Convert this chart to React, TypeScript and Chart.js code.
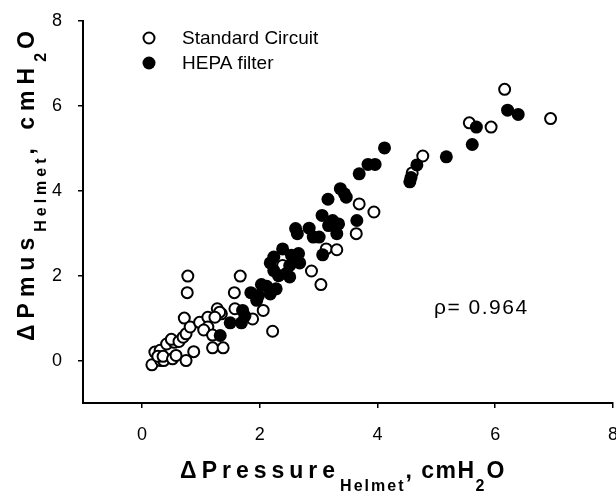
import React, { useEffect, useRef } from 'react';
import { Chart, registerables } from 'chart.js';

Chart.register(...registerables);

// ---- data ----
const seriesLabels = ['Standard Circuit', 'HEPA filter'];

const standardX = [0.17, 0.32, 0.37, 0.22, 0.31, 0.27, 0.42, 0.36, 0.52, 0.55, 0.5, 0.63, 0.58, 0.7, 0.75, 0.72, 0.82, 0.88, 0.75, 0.77, 0.78, 0.98, 1.12, 1.12, 1.05, 1.28, 1.2, 1.38, 1.35, 1.2, 1.32, 1.24, 1.57, 1.67, 1.58, 1.88, 2.06, 2.22, 2.39, 2.88, 3.04, 3.13, 3.31, 3.64, 3.69, 3.94, 4.59, 4.77, 5.56, 5.93, 6.16, 6.94];
const standardY = [-0.1, 0.0, 0.0, 0.2, 0.24, 0.1, 0.39, 0.1, 0.04, 0.43, 0.5, 0.45, 0.12, 0.55, 0.63, 1.0, 0.79, 0.21, 0.0, 1.6, 1.99, 0.9, 1.02, 0.79, 0.72, 1.22, 0.3, 0.3, 1.1, 0.6, 1.14, 1.02, 1.6, 1.99, 1.22, 0.98, 1.18, 0.69, 2.24, 2.11, 1.79, 2.63, 2.61, 2.99, 3.69, 3.5, 4.42, 4.82, 5.6, 5.5, 6.39, 5.7];

const hepaX = [1.33, 1.5, 1.69, 1.71, 1.75, 1.85, 1.95, 1.98, 2.03, 2.18, 2.28, 2.12, 2.18, 2.24, 2.39, 2.32, 2.24, 2.51, 2.45, 2.51, 2.54, 2.66, 2.68, 2.61, 2.64, 2.84, 2.91, 3.01, 3.07, 3.16, 3.06, 3.17, 3.24, 3.34, 3.31, 3.37, 3.47, 3.44, 3.65, 3.69, 3.84, 3.96, 4.12, 4.55, 4.57, 4.67, 5.17, 5.61, 5.68, 6.21, 6.39];
const hepaY = [0.59, 0.89, 0.89, 1.18, 1.05, 1.6, 1.42, 1.53, 1.79, 1.57, 1.69, 1.75, 2.3, 2.44, 2.63, 2.0, 2.12, 1.97, 2.05, 2.24, 2.48, 2.52, 2.3, 3.11, 2.99, 3.12, 2.91, 2.91, 2.49, 3.8, 3.42, 3.18, 3.3, 3.22, 2.99, 4.05, 3.85, 3.93, 3.3, 4.4, 4.62, 4.62, 5.01, 4.21, 4.31, 4.61, 4.8, 5.09, 5.5, 5.9, 5.8];

const xTicks = [0, 2, 4, 6, 8];
const yTicks = [0, 2, 4, 6, 8];
const rhoText = 'ρ= 0.964';

type Part = { t: string; sub: boolean };
const xTitleParts: Part[] = [
  { t: 'ΔPressure', sub: false },
  { t: 'Helmet', sub: true },
  { t: ', cmH', sub: false },
  { t: '2', sub: true },
  { t: 'O', sub: false },
];
const yTitleParts: Part[] = [
  { t: 'ΔPmus', sub: false },
  { t: 'Helmet', sub: true },
  { t: ', cmH', sub: false },
  { t: '2', sub: true },
  { t: 'O', sub: false },
];

const FONT = "'Liberation Sans', Arial, sans-serif";
const MAIN_FONT = `bold 23px ${FONT}`;
const SUB_FONT = `bold 16px ${FONT}`;

function drawRich(
  ctx: CanvasRenderingContext2D,
  parts: Part[],
  cx: number,
  baseY: number,
  spacing: number[],
  subDrop: number
) {
  const anyCtx = ctx as any;
  const widths = parts.map((p, i) => {
    ctx.font = p.sub ? SUB_FONT : MAIN_FONT;
    anyCtx.letterSpacing = spacing[i] + 'px';
    return ctx.measureText(p.t).width;
  });
  const total = widths.reduce((a, b) => a + b, 0);
  let x = cx - total / 2;
  ctx.textAlign = 'left';
  ctx.textBaseline = 'alphabetic';
  parts.forEach((p, i) => {
    ctx.font = p.sub ? SUB_FONT : MAIN_FONT;
    anyCtx.letterSpacing = spacing[i] + 'px';
    ctx.fillText(p.t, x, p.sub ? baseY + subDrop : baseY);
    x += widths[i];
  });
  anyCtx.letterSpacing = '0px';
}

const decorPlugin = {
  id: 'decor',
  afterDraw(chart: any) {
    const ctx: CanvasRenderingContext2D = chart.ctx;
    ctx.save();
    ctx.fillStyle = '#000';
    // legend
    const ds = chart.data.datasets;
    const legendY = [38, 63];
    ds.forEach((d: any, i: number) => {
      ctx.beginPath();
      ctx.arc(149, legendY[i], d.pointRadius, 0, Math.PI * 2);
      ctx.fillStyle = d.backgroundColor;
      ctx.fill();
      ctx.lineWidth = d.borderWidth;
      ctx.strokeStyle = d.borderColor;
      if (d.borderWidth > 0) ctx.stroke();
      ctx.fillStyle = '#000';
      ctx.font = `19px ${FONT}`;
      ctx.textAlign = 'left';
      ctx.textBaseline = 'middle';
      ctx.fillText(d.label, 182, legendY[i] + 1);
    });
    // rho annotation
    ctx.font = `21px ${FONT}`;
    (ctx as any).letterSpacing = '1.5px';
    ctx.textAlign = 'left';
    ctx.textBaseline = 'alphabetic';
    ctx.fillText(rhoText, 434, 314);
    (ctx as any).letterSpacing = '0px';
    // x title
    drawRich(ctx, xTitleParts, 343, 478, [5, 2, 1.5, 2, 1.5], 13);
    // y title
    ctx.save();
    ctx.translate(34, 183);
    ctx.rotate(-Math.PI / 2);
    drawRich(ctx, yTitleParts, 0, 0, [6, 4, 6, 4, 6], 12);
    ctx.restore();
    ctx.restore();
  },
};

export default function App() {
  const ref = useRef<HTMLCanvasElement | null>(null);
  useEffect(() => {
    document.body.style.margin = '0';
    if (!ref.current) return;
    const tickFont = { family: FONT, size: 18 };
    const chart = new Chart(ref.current, {
      type: 'scatter',
      data: {
        datasets: [
          {
            label: seriesLabels[0],
            data: standardX.map((x, i) => ({ x, y: standardY[i] })),
            pointRadius: 5.5,
            pointHoverRadius: 5.5,
            backgroundColor: '#ffffff',
            borderColor: '#000000',
            borderWidth: 2,
            order: 1,
          },
          {
            label: seriesLabels[1],
            data: hepaX.map((x, i) => ({ x, y: hepaY[i] })),
            pointRadius: 6.5,
            pointHoverRadius: 6.5,
            backgroundColor: '#000000',
            borderColor: '#000000',
            borderWidth: 0,
            order: 0,
          },
        ],
      },
      options: {
        animation: false,
        responsive: true,
        maintainAspectRatio: false,
        devicePixelRatio: 1,
        layout: { autoPadding: false, padding: { left: 0, right: 3, top: 21, bottom: 0 } },
        plugins: { legend: { display: false }, tooltip: { enabled: false }, title: { display: false } },
        scales: {
          x: {
            type: 'linear',
            min: -1,
            max: 8,
            ticks: { stepSize: 2, padding: 16, color: '#000', font: tickFont },
            grid: { display: true, drawOnChartArea: false, drawTicks: true, tickLength: 5, color: '#000', lineWidth: 1.5 },
            border: { display: true, color: '#000', width: 2 },
            afterBuildTicks: (s: any) => {
              s.ticks = xTicks.map((v) => ({ value: v }));
            },
            afterFit: (s: any) => {
              s.height = 96;
              s.paddingLeft = 0;
              s.paddingRight = 0;
            },
          },
          y: {
            type: 'linear',
            min: -1,
            max: 8,
            ticks: { stepSize: 2, padding: 16, color: '#000', font: tickFont },
            grid: { display: true, drawOnChartArea: false, drawTicks: true, tickLength: 5, color: '#000', lineWidth: 1.5 },
            border: { display: true, color: '#000', width: 2 },
            afterBuildTicks: (s: any) => {
              s.ticks = yTicks.map((v) => ({ value: v }));
            },
            afterFit: (s: any) => {
              s.width = 83;
              s.paddingTop = 0;
              s.paddingBottom = 0;
            },
          },
        },
      },
      plugins: [decorPlugin],
    });
    return () => chart.destroy();
  }, []);
  return (
    <div style={{ position: 'fixed', left: 0, top: 0, width: 616, height: 499, background: '#fff' }}>
      <canvas ref={ref} />
    </div>
  );
}
